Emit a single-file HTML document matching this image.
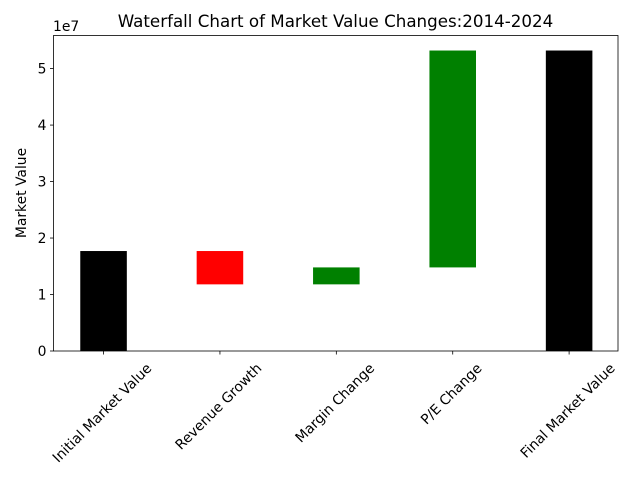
<!DOCTYPE html>
<html><head><meta charset="utf-8"><style>
body{margin:0;background:#fff;}
svg{display:block;font-family:"DejaVu Sans","Liberation Sans",sans-serif;}
</style></head><body>
<svg id="chart" width="640" height="480" viewBox="0 0 640 480" xmlns="http://www.w3.org/2000/svg">
<text x="335.5" y="27" font-size="16.7" text-anchor="middle">Waterfall Chart of Market Value Changes:2014-2024</text>
<text transform="translate(26,193) rotate(-90)" font-size="13.9" text-anchor="middle">Market Value</text>
<text x="53" y="31" font-size="13.9">1e7</text>
<g id="marks"></g>
<rect x="53.5" y="35.5" width="564.5" height="315.5" fill="none" stroke="#000" stroke-width="0.8"/>
</svg>
<script>
const categories=["Initial Market Value","Revenue Growth","Margin Change","P/E Change","Final Market Value"];
const bottoms=[0,11.8e6,11.8e6,14.8e6,0];
const tops=[17.7e6,17.7e6,14.8e6,53.2e6,53.2e6];
const colors=["black","red","green","green","black"];
const yTicks=[0,1,2,3,4,5];
const x0=53.5,x1=618,y0=351,yTop=35.5;
const yMin=0,yMax=55.86e6;
function yScale(v){return y0-(v-yMin)/(yMax-yMin)*(y0-yTop);}
const xMin=-0.43,xMax=4.42;
function xScale(i){return x0+(i-xMin)/(xMax-xMin)*(x1-x0);}
const bw=0.4*(xScale(1)-xScale(0));
const ns="http://www.w3.org/2000/svg";
const g=document.getElementById('marks');
function mk(t,a){const e=document.createElementNS(ns,t);for(const k in a)e.setAttribute(k,a[k]);g.appendChild(e);return e;}
categories.forEach((c,i)=>{
  const cx=xScale(i);
  const r=mk('rect',{x:cx-bw/2,y:yScale(tops[i]),width:bw,height:yScale(bottoms[i])-yScale(tops[i]),fill:colors[i]});
  
  
  const t=mk('line',{x1:cx,x2:cx,y1:y0,y2:y0+3.5,stroke:'#000','stroke-width':0.8});
  
  
  const lb=mk('text',{'font-size':13.9,'text-anchor':'middle','dominant-baseline':'central'});
  lb.textContent=c;
  
  
  const L=lb.getComputedTextLength();
  const s=(L+12)*0.7071;
  lb.setAttribute('transform',`translate(${cx-1},${y0+11+s/2}) rotate(-45)`);
});
yTicks.forEach(v=>{
  const y=yScale(v*1e7);
  const t=mk('line',{x1:x0-3.5,x2:x0,y1:y,y2:y,stroke:'#000','stroke-width':0.8});
  
  
  const lb=mk('text',{x:x0-7,y:y+5,'font-size':13.9,'text-anchor':'end'});
  lb.textContent=v;
  
  
});
</script>
</body></html>
